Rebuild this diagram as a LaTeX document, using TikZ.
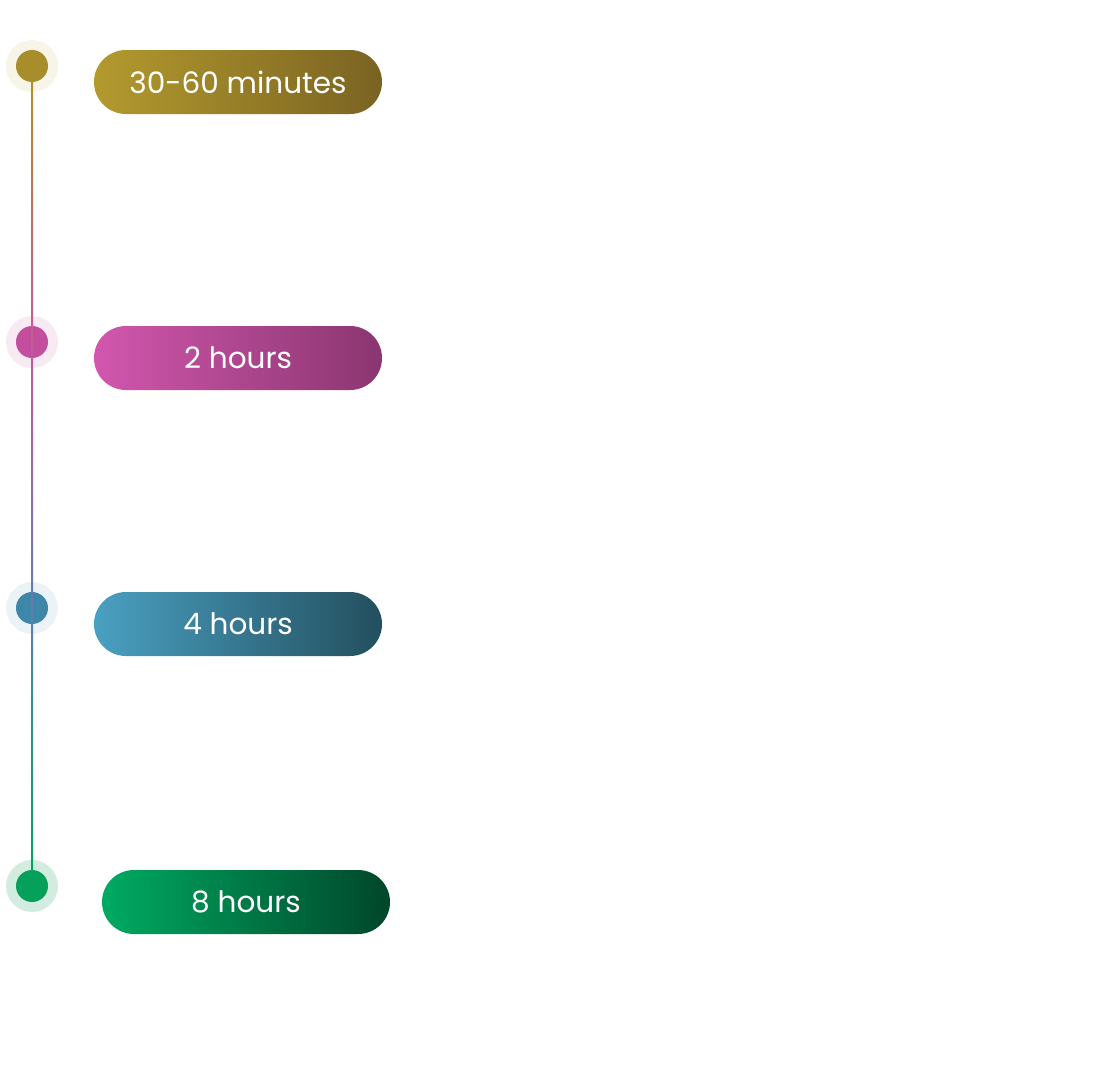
\documentclass[tikz,border=0pt]{standalone}
\usepackage{fontspec}
\setmainfont{Poppins}
\usetikzlibrary{shapes.misc,calc}
\definecolor{gA}{HTML}{B39A2E}\definecolor{gB}{HTML}{7A6322}
\definecolor{pA}{HTML}{D257AE}\definecolor{pB}{HTML}{8A3670}
\definecolor{bA}{HTML}{4AA0C2}\definecolor{bB}{HTML}{234F5E}
\definecolor{eA}{HTML}{00AB62}\definecolor{eB}{HTML}{00462A}
\definecolor{d1c}{HTML}{A88E2A}\definecolor{h1c}{HTML}{F7F4E8}
\definecolor{d2c}{HTML}{C44E9E}\definecolor{h2c}{HTML}{F8EAF3}
\definecolor{d3c}{HTML}{3F87A8}\definecolor{h3c}{HTML}{ECF3F7}
\definecolor{d4c}{HTML}{05A05A}\definecolor{h4c}{HTML}{D2EDE0}
\definecolor{l1}{HTML}{B08E30}\definecolor{l2}{HTML}{C45A96}
\definecolor{l3}{HTML}{5E7EB0}\definecolor{l4}{HTML}{05A05A}
\tikzset{
  halo/.style={circle, minimum size=52pt, inner sep=0pt},
  dot/.style={circle, minimum size=32pt, inner sep=0pt},
  pill/.style={rounded rectangle, minimum width=288pt, minimum height=64pt, inner sep=0pt,
    text=white, font=\fontsize{29.5}{34}\selectfont},
}
\begin{document}
\begin{tikzpicture}[x=1pt,y=-1pt]
\useasboundingbox[fill=white] (0,0) rectangle (1118,1076);
\node[halo, fill=h1c] (h1) at (32,66) {};
\node[halo, fill=h2c] (h2) at (32,342) {};
\node[halo, fill=h3c] (h3) at (32,608) {};
\node[halo, fill=h4c] (h4) at (32,886) {};
\node[dot, fill=d1c] (d1) at (32,66) {};
\node[dot, fill=d2c] (d2) at (32,342) {};
\node[dot, fill=d3c] (d3) at (32,608) {};
\node[dot, fill=d4c] (d4) at (32,886) {};
\shade[top color=l1, bottom color=l2] ($(d1.south)+(-1,0)$) rectangle ($(d2.center)+(1,0)$);
\shade[top color=l2, bottom color=l3] ($(d2.center)+(-1,0)$) rectangle ($(d3.center)+(1,0)$);
\shade[top color=l3, bottom color=l4] ($(d3.center)+(-1,0)$) rectangle ($(d4.center)+(1,0)$);
\node[pill, left color=gA, right color=gB] (p1) at (238,82) {30-60 minutes};
\node[pill, left color=pA, right color=pB] (p2) at (238,358) {2 hours};
\node[pill, left color=bA, right color=bB] (p3) at (238,624) {4 hours};
\node[pill, left color=eA, right color=eB] (p4) at (246,902) {8 hours};
\end{tikzpicture}
\end{document}
